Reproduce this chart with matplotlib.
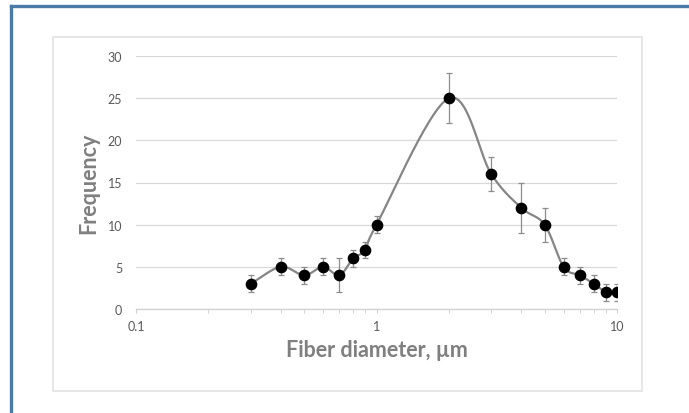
import numpy as np
import matplotlib
matplotlib.use("Agg")
import matplotlib.pyplot as plt
from matplotlib.patches import Rectangle
from matplotlib.lines import Line2D

diameter = [0.3, 0.4, 0.5, 0.6, 0.7, 0.8, 0.9, 1, 2, 3, 4, 5, 6, 7, 8, 9, 10]
frequency = [3, 5, 4, 5, 4, 6, 7, 10, 25, 16, 12, 10, 5, 4, 3, 2, 2]
errors = [1, 1, 1, 1, 2, 1, 1, 1, 3, 2, 3, 2, 1, 1, 1, 1, 1]
y_ticks = [0, 5, 10, 15, 20, 25, 30]
x_ticks = [0.1, 1, 10]
x_ticklabels = ["0.1", "1", "10"]

plt.rcParams['font.family'] = ['Lato', 'DejaVu Sans']

def smooth(xs, ys, n=30):
    # Catmull-Rom spline (Excel-like smoothed line) in log-x space
    lx = np.log10(np.asarray(xs, float))
    y = np.asarray(ys, float)
    px = np.concatenate([[2*lx[0]-lx[1]], lx, [2*lx[-1]-lx[-2]]])
    py = np.concatenate([[2*y[0]-y[1]], y, [2*y[-1]-y[-2]]])
    ox, oy = [], []
    for i in range(1, len(px)-2):
        t = np.linspace(0, 1, n)
        p0x, p1x, p2x, p3x = px[i-1], px[i], px[i+1], px[i+2]
        p0y, p1y, p2y, p3y = py[i-1], py[i], py[i+1], py[i+2]
        c1x = p1x + (p2x - p0x) / 6
        c1y = p1y + (p2y - p0y) / 6
        c2x = p2x - (p3x - p1x) / 6
        c2y = p2y - (p3y - p1y) / 6
        bx = (1-t)**3*p1x + 3*(1-t)**2*t*c1x + 3*(1-t)*t**2*c2x + t**3*p2x
        by = (1-t)**3*p1y + 3*(1-t)**2*t*c1y + 3*(1-t)*t**2*c2y + t**3*p2y
        ox.append(bx); oy.append(by)
    return 10**np.concatenate(ox), np.concatenate(oy)

fig = plt.figure(figsize=(6.89, 4.14), dpi=100)
fig.patch.set_facecolor('white')

W, H = 689, 414
# blue outer border (top and left)
fig.add_artist(Line2D([11/W, 1], [1-7/H, 1-7/H], transform=fig.transFigure, color='#4a7ba6', lw=2.4))
fig.add_artist(Line2D([11/W, 11/W], [0, 1-7/H], transform=fig.transFigure, color='#4a7ba6', lw=2.4))
# inner chart box
fig.add_artist(Rectangle((53/W, 1-392/H), (642-53)/W, (392-38)/H, transform=fig.transFigure,
                         fill=False, edgecolor='#e3e3e3', lw=1.2))

ax = fig.add_axes([136/W, 1-310/H, (617-136)/W, (310-57)/H])
ax.set_xscale('log')
ax.set_xlim(0.1, 10)
ax.set_ylim(0, 30)

sx, sy = smooth(diameter, frequency)
ax.plot(sx, sy, color='#858585', lw=1.6, zorder=2)
ax.errorbar(diameter, frequency, yerr=errors, fmt='none', ecolor='#8c8c8c',
            elinewidth=0.9, capsize=2.5, capthick=0.9, zorder=3)
ax.plot(diameter, frequency, 'o', color='black', ms=7.4, zorder=4)

ax.set_yticks(y_ticks)
ax.set_xticks(x_ticks)
ax.set_xticklabels(x_ticklabels)
ax.yaxis.grid(True, color='#d9d9d9', lw=0.9)
ax.set_axisbelow(True)
for s in ['top', 'right', 'left']:
    ax.spines[s].set_visible(False)
ax.spines['bottom'].set_color('#d0d0d0')
ax.spines['bottom'].set_linewidth(0.9)
ax.tick_params(axis='y', length=0, labelsize=9, labelcolor='#595959', pad=10)
ax.tick_params(axis='x', which='major', length=3, color='#d0d0d0', labelsize=9, labelcolor='#595959', pad=5)
ax.tick_params(axis='x', which='minor', length=3, color='#d0d0d0')
ax.xaxis.set_minor_formatter(matplotlib.ticker.NullFormatter())

ax.set_ylabel('Frequency', fontsize=15.5, fontweight='bold', color='#7f7f7f', labelpad=6)
ax.set_xlabel('Fiber diameter, µm', fontsize=15.5, fontweight='bold', color='#7f7f7f', labelpad=5)

fig.savefig('out.png', dpi=100)
